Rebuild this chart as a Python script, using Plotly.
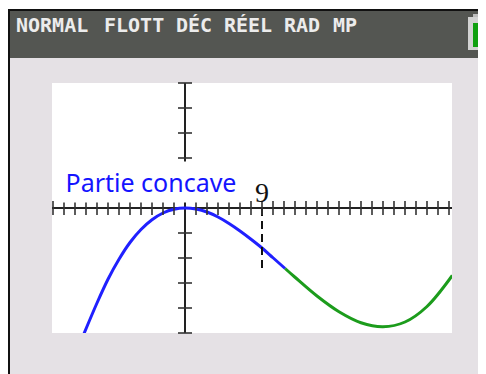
import plotly.graph_objects as go

# ---------------- data ----------------
blue_x = [-9.3, -8.0, -7.0, -6.0, -5.0, -4.0, -3.0, -2.0, -1.0, 0.0, 1.0, 2.0, 3.0, 4.0, 5.0, 6.0, 7.0, 8.0, 9.1]
blue_y = [-5.15, -3.8, -2.85, -2.05, -1.38, -0.86, -0.47, -0.2, -0.05, 0.0, -0.04, -0.16, -0.36, -0.62, -0.92, -1.25, -1.6, -1.99, -2.42]
green_x = [9.1, 10.0, 12.0, 14.0, 16.0, 18.0, 20.0, 22.0, 24.3]
green_y = [-2.42, -2.77, -3.52, -4.15, -4.59, -4.75, -4.56, -3.94, -2.7]
x_ticks = [v for v in range(-12, 25) if v != 0]
y_ticks = [v for v in range(-5, 6) if v != 0]
dash_x = [7.0, 7.0]
dash_y = [0.0, -2.56]
status_words = ["NORMAL", "FLOTT", "DÉC", "RÉEL", "RAD", "MP"]
label_text = "Partie concave"
inflection_label = "9"

# ---------------- geometry helpers ----------------
# the page body has an 8px margin, so everything is drawn 8px up/left
OFF = 8
W, H = 486, 374
PW, PH = 400, 250
L, T = 52 - OFF, 83 - OFF
R, B = W - L - PW, H - T - PH


def px(x):
    return (x - OFF - L) / PW


def py(y):
    return (H - B - (y - OFF)) / PH


def rect(x0, y0, x1, y1, color, layer="below"):
    return dict(type="rect", xref="paper", yref="paper",
                x0=px(x0), x1=px(x1), y0=py(y1), y1=py(y0),
                fillcolor=color, line=dict(width=0), layer=layer)


fig = go.Figure()

# curve
fig.add_trace(go.Scatter(x=blue_x, y=blue_y, mode="lines",
                         line=dict(color="#2020ff", width=3, shape="spline"),
                         hoverinfo="skip"))
fig.add_trace(go.Scatter(x=green_x, y=green_y, mode="lines",
                         line=dict(color="#1c9c1c", width=3, shape="spline"),
                         hoverinfo="skip"))

# dashed marker line
fig.add_trace(go.Scatter(x=dash_x, y=dash_y, mode="lines",
                         line=dict(color="#111111", width=2, dash="8px,5px"),
                         hoverinfo="skip"))

# tick marks on the axes
fig.add_trace(go.Scatter(x=x_ticks, y=[0] * len(x_ticks), mode="markers",
                         marker=dict(symbol="line-ns", size=10, color="#333333",
                                     line=dict(color="#333333", width=1.6)),
                         cliponaxis=False, hoverinfo="skip"))
fig.add_trace(go.Scatter(x=[0] * len(y_ticks), y=y_ticks, mode="markers",
                         marker=dict(symbol="line-ew", size=10, color="#333333",
                                     line=dict(color="#333333", width=1.6)),
                         cliponaxis=False, hoverinfo="skip"))

x0_range = -12 - 1 / 11
xr = [x0_range, x0_range + PW / 11]

shapes = [
    rect(10, 11, W + 20, H + 20, "#e5e1e5"),
    rect(52, 83, 452, 333, "#ffffff"),
    rect(10, 11, W + 20, 58, "#545652"),
    rect(8, 9, W + 20, 11, "#111111"),
    rect(8, 9, 10, H + 20, "#111111"),
    # battery
    rect(473, 14, 484, 18, "#bdbdbd"),
    rect(468, 17, W + 20, 50, "#d2d2d2"),
    rect(473, 23, 484, 47, "#10a010"),
]

word_left = [15, 103, 175, 223, 283, 332]
annotations = []
for w, xl in zip(status_words, word_left):
    annotations.append(dict(text="<b>" + w + "</b>", xref="paper", yref="paper",
                            x=px(xl - 1), y=py(25), xanchor="left", yanchor="middle",
                            showarrow=False,
                            font=dict(family="DejaVu Sans Mono", size=20, color="#ececec")))

annotations.append(dict(text=label_text, xref="x", yref="y",
                        x=(151 - 185) / 11, y=(208 - 182) / 25,
                        xanchor="center", yanchor="middle", showarrow=False,
                        bgcolor="#ffffff", width=180, height=38,
                        font=dict(family="Noto Sans", size=25, color="#1414ff")))
annotations.append(dict(text=inflection_label, xref="x", yref="y",
                        x=dash_x[0], y=(208 - 192) / 25,
                        xanchor="center", yanchor="middle", showarrow=False,
                        font=dict(family="Liberation Serif", size=28, color="#111111")))

fig.update_layout(
    width=W, height=H, autosize=False,
    margin=dict(l=L, r=R, t=T, b=B, pad=0),
    paper_bgcolor="#ffffff", plot_bgcolor="#ffffff",
    showlegend=False,
    shapes=shapes, annotations=annotations,
    xaxis=dict(range=xr, showgrid=False, zeroline=True, zerolinecolor="#222222",
               zerolinewidth=2, showticklabels=False, ticks="", showline=False,
               fixedrange=True),
    yaxis=dict(range=[-5, 5], showgrid=False, zeroline=True, zerolinecolor="#222222",
               zerolinewidth=2, showticklabels=False, ticks="", showline=False,
               fixedrange=True),
)

fig.write_html("out.html", config={"displayModeBar": False})
